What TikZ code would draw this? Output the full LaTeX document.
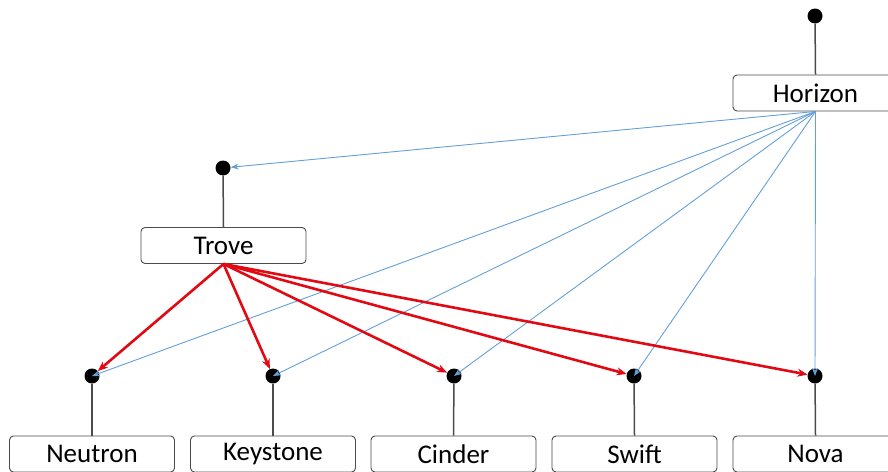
\documentclass[tikz,border=0pt]{standalone}
\usepackage{fontspec}
\setmainfont{Carlito}
\usetikzlibrary{arrows.meta}
\definecolor{bluel}{RGB}{100,160,215}
\definecolor{redl}{RGB}{225,10,20}
\definecolor{grayl}{RGB}{75,75,75}
\tikzset{
  box/.style={draw=grayl, line width=0.9pt, rounded corners=4pt, minimum width=165pt, minimum height=36pt, inner sep=0pt, fill=white, font=\fontsize{27}{30}\selectfont},
  dotn/.style={circle, fill=black, minimum size=15pt, inner sep=0pt},
  stem/.style={grayl, line width=1.5pt},
  blueline/.style={bluel, line width=0.9pt, -{Stealth[length=8pt,width=6pt]}},
  redline/.style={redl, line width=2.6pt, -{Stealth[length=10pt,width=8pt]}}
}
\begin{document}
\begin{tikzpicture}[x=1pt,y=-1pt]
\useasboundingbox (0,0) rectangle (888,471);
\clip (0,0) rectangle (888,471);
% nodes
\node[dotn] (dh) at (815,16) {};
\node[box] (hor) at (815.5,93) {Horizon};
\node[dotn] (dt) at (223,168) {};
\node[box] (tro) at (223.5,245.5) {Trove};
\node[dotn] (d1) at (92,376) {};
\node[dotn] (d2) at (273,376) {};
\node[dotn] (d3) at (454,376) {};
\node[dotn] (d4) at (634,376) {};
\node[dotn] (d5) at (815,376) {};
\node[box] (b1) at (92,454) {Neutron};
\node[box] (b2) at (273,454) {Keystone};
\node[box] (b3) at (453.5,454) {Cinder};
\node[box] (b4) at (634.5,454) {Swift};
\node[box] (b5) at (815.5,454) {Nova};
% stems
\draw[stem] (dh) -- (hor.north);
\draw[stem] (dt) -- (tro.north);
\foreach \i in {1,...,5} {\draw[stem] (d\i) -- (b\i.north);}
% blue
\draw[blueline] (hor.south) -- (dt);
\foreach \i in {1,...,5} {\draw[blueline] (hor.south) -- (d\i.center);}
% red
\foreach \i in {1,...,5} {\draw[redline] (tro.south) -- (d\i);}
\end{tikzpicture}
\end{document}
